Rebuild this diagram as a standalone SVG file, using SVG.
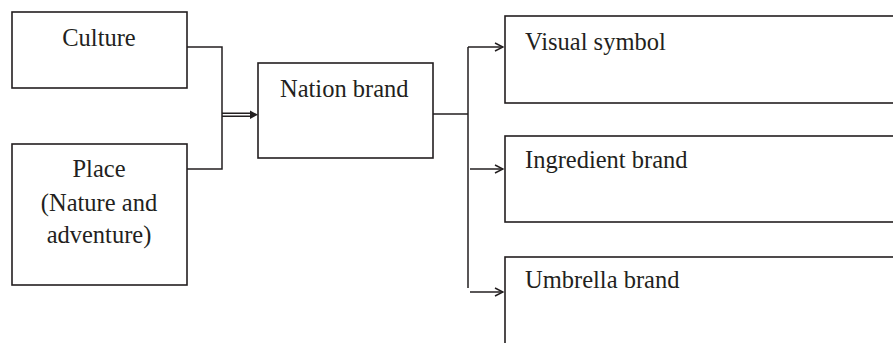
<svg xmlns="http://www.w3.org/2000/svg" width="893" height="343" viewBox="0 0 893 343">
<style>
.box{fill:#fff;stroke:#231f20;stroke-width:1.6}
.ln{fill:none;stroke:#231f20;stroke-width:1.5}
text{font-family:"Liberation Serif","Times New Roman",serif;font-size:24.5px;fill:#231f20}
.c{text-anchor:middle}
</style>
<defs>
<marker id="open" markerWidth="10" markerHeight="10" refX="9" refY="5" orient="auto" markerUnits="userSpaceOnUse">
<path d="M1,1 L9,5 L1,9" fill="none" stroke="#231f20" stroke-width="1.5"/>
</marker>
</defs>
<rect width="893" height="343" fill="#fff"/>
<g id="culture">
<rect class="box" x="12" y="12" width="175" height="76"/>
<text class="c" x="99" y="46">Culture</text>
</g>
<g id="place">
<rect class="box" x="12" y="144" width="175" height="141"/>
<text class="c" x="99" y="177">Place</text>
<text class="c" x="99" y="211">(Nature and</text>
<text class="c" x="99" y="243">adventure)</text>
</g>
<g id="nation">
<rect class="box" x="258" y="63" width="175" height="95"/>
<text x="280" y="97">Nation brand</text>
</g>
<g id="visual">
<rect class="box" x="505" y="16" width="400" height="87"/>
<text x="525" y="50">Visual symbol</text>
</g>
<g id="ingredient">
<rect class="box" x="505" y="136" width="400" height="86"/>
<text x="525" y="168">Ingredient brand</text>
</g>
<g id="umbrella">
<rect class="box" x="505" y="257" width="400" height="120"/>
<text x="525" y="288">Umbrella brand</text>
</g>
<g id="connectors">
<path class="ln" d="M187,47 H222 V169 H187"/>
<path class="ln" d="M222,113.3 H252 M222,116.2 H252"/>
<path d="M250,110.5 L258,114.7 L250,119 Z" fill="#231f20"/>
<path class="ln" d="M433,114 H468 M468,47 V288"/>
<path class="ln" d="M468,47 H503" marker-end="url(#open)"/>
<path class="ln" d="M470,169 H503" marker-end="url(#open)"/>
<path class="ln" d="M470,292 H503" marker-end="url(#open)"/>
</g>
</svg>
